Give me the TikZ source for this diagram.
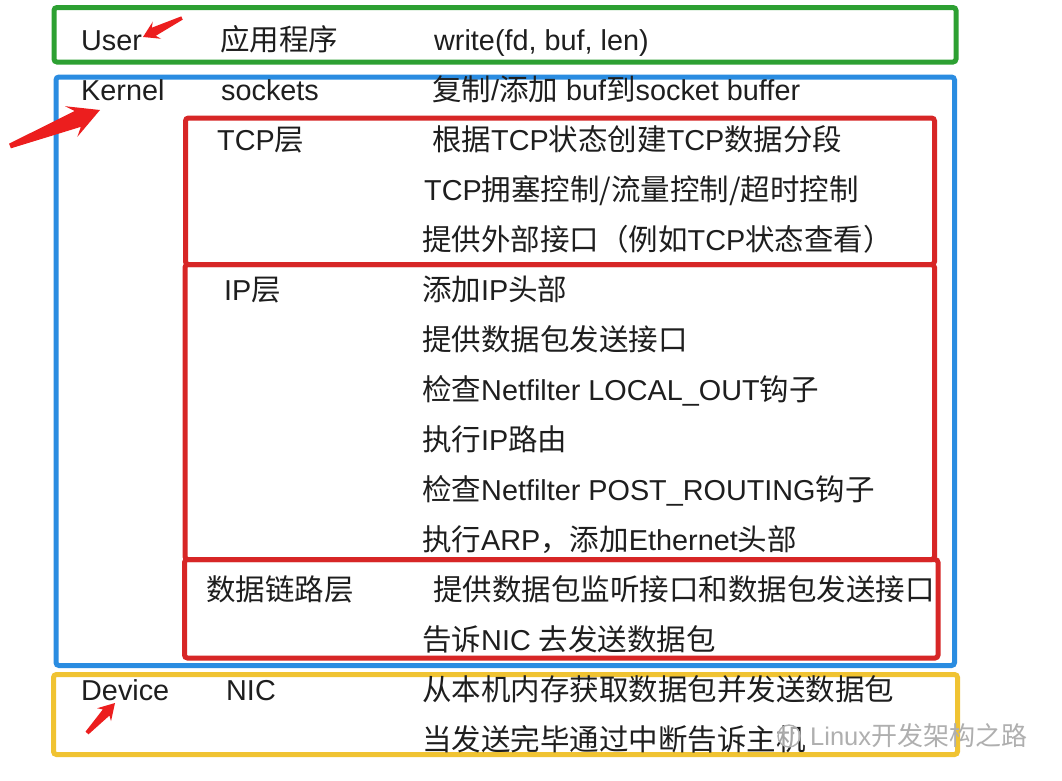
\documentclass[tikz,border=0pt]{standalone}
\usepackage{fontspec}
\setmainfont{Liberation Sans}
\newfontfamily\zhfont{Noto Sans CJK SC}
\usetikzlibrary{calc}
\definecolor{boxgreen}{RGB}{45,160,50}
\definecolor{boxblue}{RGB}{42,140,225}
\definecolor{boxred}{RGB}{215,38,38}
\definecolor{boxyellow}{RGB}{240,195,50}
\definecolor{arrowred}{RGB}{236,30,30}
\definecolor{txtcol}{RGB}{30,30,30}
\definecolor{wmark}{RGB}{175,175,175}
\newcommand\zh[1]{{\zhfont\fontsize{29.5}{31}\selectfont #1}}
\newcommand\zhw[1]{{\zhfont\fontsize{26}{28}\selectfont #1}}
\newcommand\fatarrow[7]{%
  \fill[arrowred] ($(#1)!#3!90:(#2)$) -- ($(#2)!#5!(#1)!#4!90:(#2)$) -- ($(#2)!#6!(#1)!#7!90:(#2)$) -- (#2)
   -- ($(#2)!#6!(#1)!#7!-90:(#2)$) -- ($(#2)!#5!(#1)!#4!-90:(#2)$) -- ($(#1)!#3!-90:(#2)$) -- cycle;}
\begin{document}
\begin{tikzpicture}[x=1pt,y=-1pt,
  frame/.style={line width=5pt, rounded corners=3pt},
  txt/.style={anchor=base west, inner sep=0pt, text=txtcol, font=\fontsize{28.8}{30}\selectfont},
  wm/.style={anchor=base west, inner sep=0pt, text=wmark, font=\fontsize{25.5}{27}\selectfont}]
\useasboundingbox (0,0) rectangle (1062,780);
\fill[white] (0,0) rectangle (1062,780);
% frames
\draw[frame, boxgreen] (54,7.5) rectangle (956,62);
\draw[frame, boxblue] (56,77) rectangle (954.5,665.5);
\draw[frame, boxyellow] (53.5,674.5) rectangle (957.5,754.5);
\draw[frame, boxred] (185.5,118) rectangle (934.5,264.5);
\draw[frame, boxred] (185,264.5) rectangle (934.5,559.5);
\draw[frame, boxred] (184.5,559.5) rectangle (938,658);
% row 1
\node[txt] (user) at (81,50) {User};
\node[txt] (app) at (220,50) {\zh{应用程序}};
\node[txt] (write) at (434,50) {write(fd, buf, len)};
% row 2
\node[txt] (kernel) at (81,100) {Kernel};
\node[txt] (sock) at (221,100) {sockets};
\node[txt] (copy) at (432,100) {\zh{复制}/\zh{添加} buf\zh{到}socket buffer};
% TCP
\node[txt] (tcp) at (217,150) {TCP\zh{层}};
\node[txt] (t1) at (432,150) {\zh{根据}TCP\zh{状态创建}TCP\zh{数据分段}};
\node[txt] (t2) at (424,200) {TCP\zh{拥塞控制/流量控制/超时控制}};
\node[txt] (t3) at (422,250) {\zh{提供外部接口（例如}TCP\zh{状态查看）}};
% IP
\node[txt] (ip) at (224,300) {IP\zh{层}};
\node[txt] (i1) at (422,300) {\zh{添加}IP\zh{头部}};
\node[txt] (i2) at (422,350) {\zh{提供数据包发送接口}};
\node[txt] (i3) at (422,400) {\zh{检查}Netfilter LOCAL\_OUT\zh{钩子}};
\node[txt] (i4) at (422,450) {\zh{执行}IP\zh{路由}};
\node[txt] (i5) at (422,500) {\zh{检查}Netfilter POST\_ROUTING\zh{钩子}};
\node[txt] (i6) at (422,550) {\zh{执行}ARP\zh{，添加}Ethernet\zh{头部}};
% data link
\node[txt] (dl) at (206,600) {\zh{数据链路层}};
\node[txt] (d1) at (433,600) {\zh{提供数据包监听接口和数据包发送接口}};
\node[txt] (d2) at (422,650) {\zh{告诉}NIC \zh{去发送数据包}};
% device
\node[txt] (dev) at (81,700) {Device};
\node[txt] (nic) at (226,700) {NIC};
\node[txt] (n1) at (422,700) {\zh{从本机内存获取数据包并发送数据包}};
\node[txt] (n2) at (422,750) {\zh{当发送完毕通过中断告诉主机}};
% watermark (drawn over the text, as in the reference)
\draw[wmark, line width=1.4pt, fill=white, fill opacity=0.6] (789,736) circle (11);
\fill[wmark] (784,733) circle (1.7) (793,733) circle (1.7);
\node[wm] (wmtext) at (810,745) {Linux\zhw{开发架构之路}};
% red pointer arrows
\coordinate (ua) at (182,18); \coordinate (ub) at (143,37);
\coordinate (ka) at (10,146); \coordinate (kb) at (100,110);
\coordinate (da) at (87,733); \coordinate (db) at (115,703);
\fatarrow{ua}{ub}{1.8pt}{4.5pt}{12pt}{15.5pt}{9.5pt}
\fatarrow{ka}{kb}{2.5pt}{8.5pt}{24pt}{31pt}{16.5pt}
\fatarrow{da}{db}{2pt}{4.5pt}{13pt}{16pt}{9.5pt}
\end{tikzpicture}
\end{document}
